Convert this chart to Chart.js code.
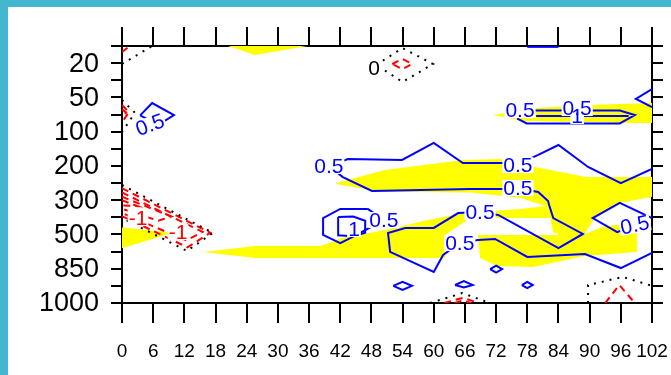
<!DOCTYPE html>
<html>
<head>
<meta charset="utf-8">
<script src="https://cdn.jsdelivr.net/npm/chart.js@4/dist/chart.umd.min.js"></script>
<style>
  html, body { margin: 0; padding: 0; background: #fff; }
  #frame { width: 663px; height: 368px; border-top: 7px solid #42b7cf; border-left: 8px solid #42b7cf; background: #fff; }
  canvas { display: block; }
</style>
</head>
<body>
<div id="frame"><canvas id="chart" width="663" height="368"></canvas></div>
<script>
// --- axes ---
const hours = [0, 6, 12, 18, 24, 30, 36, 42, 48, 54, 60, 66, 72, 78, 84, 90, 96, 102];
const pressureLevels = [10, 20, 30, 50, 70, 100, 150, 200, 250, 300, 400, 500, 700, 850, 925, 1000];
const labeledLevels = [20, 50, 100, 200, 300, 500, 850, 1000];

// --- contours: [hour, level index] (index 0 = 10 hPa ... 15 = 1000 hPa) ---
// positive (blue, solid)
const pos05Main = [[102,12.08],[96,12.96],[89.1,12.14],[78,12.31],[71.8,11.26],[68.5,11.32],[65,11.5],[61.8,12.2],[60,13.19],[51.6,12.02],[51.2,10.91],[54.5,10.62],[60,10.62],[64.7,9.75],[68.9,9.69],[72.4,9.86],[84,11.79],[88.7,10.97],[83,10.04],[82.2,9.28],[82,9.05],[80.1,8.52],[76.2,8.3],[73.1,8.35],[67,8.35],[48.1,8.46],[42.5,7.65],[39.8,7.0],[43.5,6.6],[53.9,6.65],[60,5.66],[65.6,6.83],[73.1,6.83],[76.2,6.9],[80.1,6.36],[84,5.78],[89.7,7.06],[96,8.0],[102,7.18]];
const pos05Hex = [[47.3,9.51],[42,9.51],[38.7,10.04],[38.7,11.03],[42,11.5],[44.3,11.15],[50.4,10.16],[47.3,9.51]];
const pos1Small = [[41.6,9.98],[44.5,9.95],[46.8,10.2],[46.8,10.9],[44.5,11.1],[41.6,11.05],[41.6,9.98]];
const pos05TopRight = [[76.6,3.74],[79.7,3.76],[84.3,3.76],[87.6,3.7],[90.6,3.76],[95.8,3.76],[98.7,4.03],[95.8,4.52],[77.9,4.52],[76.2,4.26],[76.6,3.74]];
const pos1TopRight = [[79.7,4.09],[87.6,4.09],[97.5,4.09]];
const pos05RightTop = [[102,2.51],[98.9,3.09],[102,3.56]];
const pos05TopEdge = [[78,0.05],[84,0.05]];
const pos05RightLoop = [[102,10.04],[95.8,9.16],[90.6,10.04],[95.3,10.86],[98.7,10.45]];
const pos05LeftSmall = [[3.5,4.05],[5.8,3.33],[10,4.03],[7,4.6],[3.5,4.05]];
const pos05Dia1 = [[52.2,14],[54,13.77],[55.8,14],[54,14.23],[52.2,14]];
const pos05Dia2 = [[64.1,13.95],[65.8,13.72],[67.5,13.95],[65.8,14.1],[64.1,13.95]];
const pos05Dia3 = [[70.85,13.02],[72,12.82],[73.15,13.02],[72,13.22],[70.85,13.02]];
const pos05Dia4 = [[76.95,13.95],[78,13.77],[79.05,13.95],[78,14.13],[76.95,13.95]];

// zero (black, dotted)
const zeroTopLeft = [[0,1.05],[5.8,0]];
const zeroTop = [[48.9,1.1],[54,0.12],[59.85,1.05],[54,2.1],[48.9,1.1]];
const zeroLeftUpper = [[0,3.15],[2.5,3.9],[0,5.02]];
const zeroLeftMid = [[0,8.11],[17.5,10.91],[12.5,11.96],[0.77,10.16],[0,10.04]];
const zeroBottom = [[59.3,15],[65.5,14.42],[70.8,15]];
const zeroBottomRight = [[89.7,15],[89.7,13.95],[96.4,13.48],[102,14.0]];

// negative (red, dashed)
const negTopLeft = [[0,0.35],[1.5,0]];
const negTop = [[52,1.05],[54,0.75],[55.8,1.05],[54,1.35],[52,1.05]];
const negLeftUpperA = [[0,3.44],[1.3,3.85],[0,4.49]];
const negLeftUpperB = [[0,3.7],[0.8,3.88],[0,4.15]];
const neg05LeftMid = [[0,8.3],[17,10.9],[12.6,11.75],[0.5,10.0],[0,9.95]];
const neg1LeftMid = [[0,8.55],[15.5,10.85],[12.4,11.35],[0,9.75]];
const neg15LeftMid = [[0,8.8],[9.5,9.95],[7,10.2],[0,9.5]];
const neg2LeftMid = [[0,9.0],[3,9.35],[0,9.3]];
const negBottomA = [[62,15],[65.6,14.7],[68.7,15]];
const negBottomB = [[64,15],[65.6,14.85],[67.2,15]];
const negBottomRight = [[93,15],[95.7,13.95],[98.7,15]];

// shaded (yellow) areas
const shadeTop = [[20.4,0],[25.6,0.53],[35.6,0]];
const shadeTopRight = [[71.4,4.03],[79.7,3.62],[90.1,3.44],[102,3.33],[102,4.49],[98.7,4.49],[77.2,4.38]];
const shadeUpper = [[41.2,8.0],[50.6,7.24],[65.8,6.65],[73.3,6.6],[79.5,7.06],[89.3,7.65],[102,7.65],[102,8.8],[95.8,9.16],[90.6,10.04],[88,10.9],[83,10.9],[82,9.4],[76.6,8.85],[67,8.55],[49.7,8.5],[41.2,8.05]];
const shadeConnector = [[82,9.0],[89,9.0],[91,10.04],[88.7,11.1],[84,11.1],[83,10.0]];
const shadeLeft = [[0,10.6],[9.8,10.9],[0,11.8]];
const shadeLower = [[15.6,12.02],[25.6,11.67],[38.3,11.67],[42.3,11.21],[50.6,10.74],[58.9,10.16],[65.8,9.75],[76.6,9.51],[83.5,9.28],[84.3,10.04],[67,10.04],[62.2,11.03],[62.2,12.37],[25.6,12.37]];
const shadeLowerRight = [[68.5,11.03],[78.5,11.03],[88.7,11.03],[92.5,10.55],[96,10.4],[99.1,10.4],[99.1,12.02],[89.1,12.26],[79.1,12.9],[72.2,12.84],[68.9,12.37]];

// contour line labels: [text, hour, level index, tilt in degrees]
const lineLabels = [
  ['0.5', 65.0, 11.5, 0], ['0.5', 50.4, 10.16, 0], ['0.5', 68.9, 9.69, 0],
  ['0.5', 76.2, 8.29, 0], ['0.5', 39.8, 7.0, 0], ['0.5', 76.2, 6.95, 0],
  ['0.5', 76.6, 3.74, 0], ['0.5', 87.6, 3.62, 0], ['1', 87.6, 4.09, 0],
  ['0.5', 98.7, 10.45, -12], ['0.5', 5.4, 4.6, -20], ['1', 44.65, 10.68, 0],
  ['0', 48.5, 1.28, 0], ['-1', 3.08, 10.04, 0], ['-1', 10.78, 10.86, 0]
];

const BLUE = '#0000ff', RED = '#ff0000', BLACK = '#000000', YELLOW = '#ffff00';

function toXY(pts) { return pts.map(p => ({ x: p[0], y: p[1] })); }

function lineSet(pts, color, dash) {
  return { data: toXY(pts), borderColor: color, borderWidth: 2, borderDash: dash,
           pointRadius: 0, fill: false, tension: 0, order: 1 };
}
function shadeSet(pts) {
  return { data: toXY(pts.concat([pts[0]])), borderColor: 'rgba(0,0,0,0)', borderWidth: 1,
           backgroundColor: YELLOW, pointRadius: 0, fill: 'shape', tension: 0, order: 10 };
}

const datasets = [];
[shadeTop, shadeTopRight, shadeUpper, shadeConnector, shadeLeft, shadeLower, shadeLowerRight]
  .forEach(s => datasets.push(shadeSet(s)));
[pos05Main, pos05Hex, pos1Small, pos05TopRight, pos1TopRight, pos05RightTop, pos05TopEdge,
 pos05RightLoop, pos05LeftSmall, pos05Dia1, pos05Dia2, pos05Dia3, pos05Dia4]
  .forEach(c => datasets.push(lineSet(c, BLUE, [])));
[zeroTopLeft, zeroTop, zeroLeftUpper, zeroLeftMid, zeroBottom, zeroBottomRight]
  .forEach(c => datasets.push(lineSet(c, BLACK, [2, 6])));
[negTopLeft, negTop, negLeftUpperA, negLeftUpperB, neg05LeftMid, neg1LeftMid, neg15LeftMid,
 neg2LeftMid, negBottomA, negBottomB, negBottomRight]
  .forEach(c => datasets.push(lineSet(c, RED, [7, 5])));

// line labels with a white backing box, like NCL
const lineLabelPlugin = {
  id: 'lineLabels',
  afterDatasetsDraw(chart) {
    const { ctx, scales } = chart;
    ctx.save();
    ctx.font = '21px "Liberation Sans", Arial, sans-serif';
    ctx.textAlign = 'center';
    ctx.textBaseline = 'middle';
    const items = lineLabels.map(l => ({
      text: l[0], tilt: l[3] * Math.PI / 180,
      px: scales.x.getPixelForValue(l[1]), py: scales.y.getPixelForValue(l[2]),
      color: l[0].startsWith('-') ? RED : (l[0] === '0' ? BLACK : BLUE)
    }));
    items.forEach(it => {
      const w = ctx.measureText(it.text).width;
      ctx.save(); ctx.translate(it.px, it.py); ctx.rotate(it.tilt);
      ctx.fillStyle = '#fff';
      ctx.fillRect(-w / 2 - 1, -8, w + 2, 16);
      ctx.restore();
    });
    items.forEach(it => {
      ctx.save(); ctx.translate(it.px, it.py); ctx.rotate(it.tilt);
      ctx.fillStyle = it.color;
      ctx.fillText(it.text, 0, 1);
      ctx.restore();
    });
    ctx.restore();
  }
};

const levelLabel = v => {
  const p = pressureLevels[Math.round(v)];
  return labeledLevels.includes(p) ? String(p) : '';
};

const tickGrid = len => ({ drawOnChartArea: false, drawTicks: true, tickLength: len, color: '#000', lineWidth: 2 });
const frameBorder = { display: true, color: '#000', width: 2 };
const noPad = s => { s.paddingLeft = 0; s.paddingRight = 0; s.paddingTop = 0; s.paddingBottom = 0; };

new Chart(document.getElementById('chart'), {
  type: 'line',
  data: { datasets },
  options: {
    responsive: false,
    animation: false,
    devicePixelRatio: 1,
    layout: { padding: 0 },
    plugins: { legend: { display: false }, tooltip: { enabled: false } },
    scales: {
      x: {
        type: 'linear', position: 'bottom', min: hours[0], max: hours[hours.length - 1],
        afterBuildTicks: s => { s.ticks = hours.map(v => ({ value: v })); },
        ticks: { autoSkip: false, maxRotation: 0, padding: 17, color: '#000',
                 font: { family: '"Liberation Sans", Arial, sans-serif', size: 19 } },
        grid: tickGrid(20), border: frameBorder,
        afterFit: s => { s.height = 72; noPad(s); }
      },
      x2: {
        type: 'linear', position: 'top', display: true, min: hours[0], max: hours[hours.length - 1],
        afterBuildTicks: s => { s.ticks = hours.map(v => ({ value: v })); },
        ticks: { display: false },
        grid: tickGrid(19), border: frameBorder,
        afterFit: s => { s.height = 39; noPad(s); }
      },
      y: {
        type: 'linear', position: 'left', reverse: true, min: 0, max: pressureLevels.length - 1,
        afterBuildTicks: s => { s.ticks = pressureLevels.map((p, i) => ({ value: i })); },
        ticks: { autoSkip: false, padding: 12, labelOffset: 1, color: '#000', callback: levelLabel,
                 font: { family: '"Liberation Sans", Arial, sans-serif', size: 27 } },
        grid: tickGrid(11), border: frameBorder,
        afterFit: s => { s.width = 114; noPad(s); }
      },
      y2: {
        type: 'linear', position: 'right', display: true, reverse: true, min: 0, max: pressureLevels.length - 1,
        afterBuildTicks: s => { s.ticks = pressureLevels.map((p, i) => ({ value: i })); },
        ticks: { display: false },
        grid: tickGrid(11), border: frameBorder,
        afterFit: s => { s.width = 19; noPad(s); }
      }
    }
  },
  plugins: [lineLabelPlugin]
});
</script>
</body>
</html>
